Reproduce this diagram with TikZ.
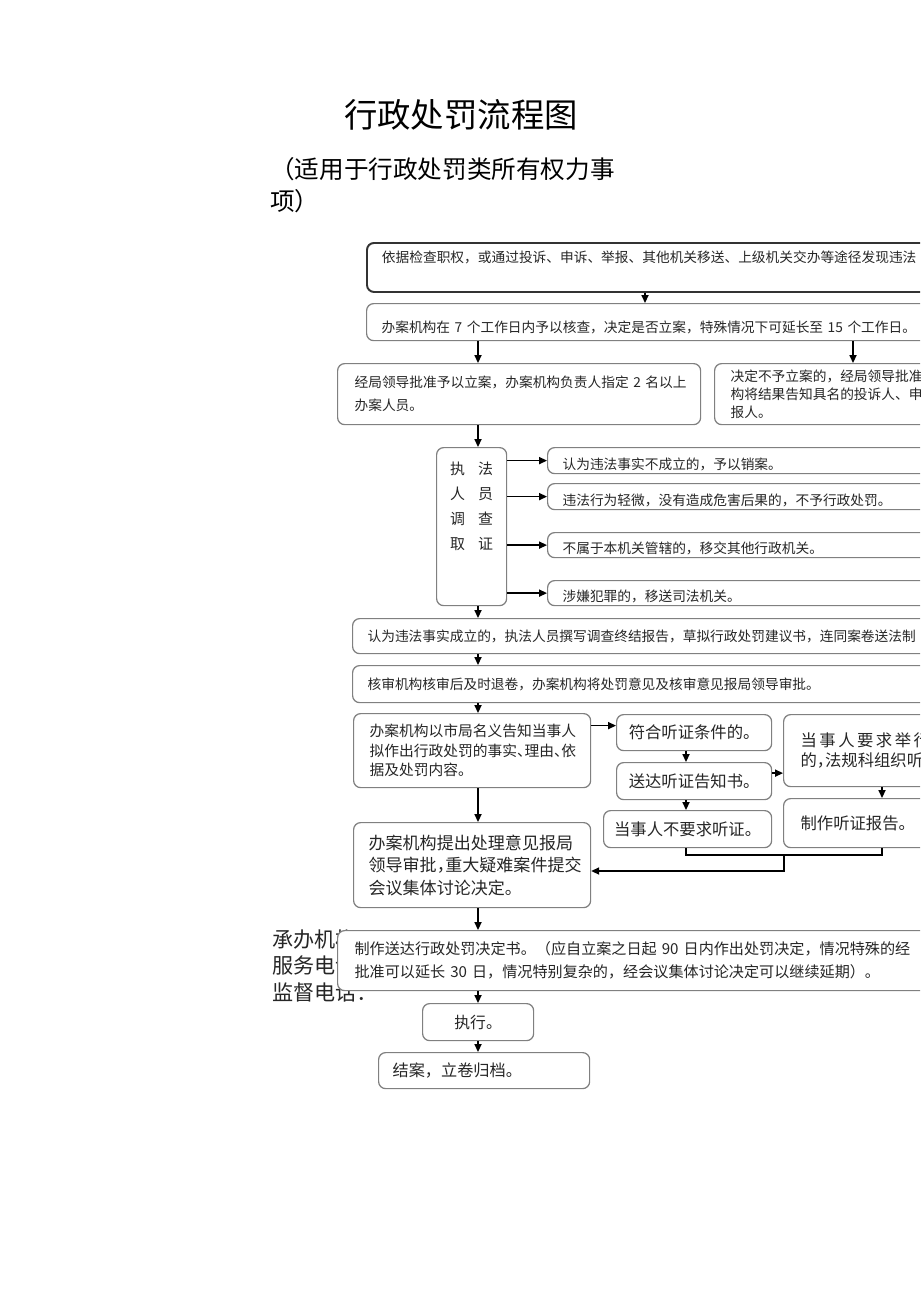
\documentclass[tikz,border=0pt]{standalone}
\usepackage{fontspec}
\newfontfamily\cjk{Noto Sans CJK SC}
\usetikzlibrary{arrows.meta}
\newlength\pxu
\setlength\pxu{0.02cm}
% narrow punctuation
\newcommand{\hc}{\makebox[0.5em][l]{，}}
\newcommand{\hd}{\makebox[0.5em][l]{、}}
\newcommand{\jg}{\hspace{2.5\pxu}}

\begin{document}
\begin{tikzpicture}[
  x=0.02cm, y=-0.02cm,
  frame/.style={draw=black!50, line width=0.7pt, rounded corners=4pt, fill=white,
    anchor=north west, inner ysep=0pt, text=black!85},
  box/.style={frame, align=left, font=\cjk\fontsize{7.8}{13}\selectfont},
  hbox/.style={frame, align=center, inner xsep=0pt, font=\cjk\fontsize{9.3}{11}\selectfont},
  sink/.style={text height=#1, text depth=0.9pt},
  arr/.style={-{Triangle[length=4.5pt,width=4pt]}, line width=0.9pt},
  link/.style={line width=0.9pt}
]
\useasboundingbox (0,0) rectangle (920,1301);
\clip (0,0) rectangle (920,1301);
\fill[white] (0,0) rectangle (920,1301);

% title
\node[font=\cjk\fontsize{19}{19}\selectfont] (title) at (461,115) {行政处罚流程图};
\node[anchor=north west, align=left, inner sep=0pt, font=\cjk\fontsize{14}{18.2}\selectfont] (scope) at (270,157) {（适用于行政处罚类所有权力事\\项）};

% columns of the connectors
\coordinate (col) at (478,0);
\coordinate (colT) at (645,0);
\coordinate (colR) at (853,0);
\coordinate (colJ) at (686,0);
\coordinate (colK) at (882,0);

\node[box, draw=black!80, line width=1.1pt, text width=564\pxu, inner xsep=15\pxu, minimum height=49\pxu, text height=7pt, text depth=12.5pt] (find) at (366,242) {依据检查职权，或通过投诉、申诉、举报、其他机关移送、上级机关交办等途径发现违法};
\node[box, text width=564\pxu, inner xsep=15\pxu, minimum height=37\pxu, sink=12.5pt] (check) at (366,303) {办案机构在~7~个工作日内予以核查，决定是否立案，特殊情况下可延长至~15~个工作日。};
\node[box, text width=329\pxu, inner xsep=17\pxu, minimum height=61\pxu] (accept) at (337,363) {经局领导批准予以立案，办案机构负责人指定~2~名以上\\办案人员。};
\node[box, text width=214\pxu, inner xsep=16\pxu, minimum height=61\pxu, font=\cjk\fontsize{7.8}{10.3}\selectfont] (reject) at (714,363) {决定不予立案的，经局领导批准\\构将结果告知具名的投诉人、申\\报人。};

% investigation
\node[frame, inner xsep=0pt, minimum width=70\pxu, minimum height=158\pxu, font=\cjk\fontsize{8.5}{14.2}\selectfont] (probe) at (436,447) {\begin{tabular}{@{}c@{\hspace{13\pxu}}c@{}}执&法\\人&员\\调&查\\取&证\\[40\pxu]\end{tabular}};
\node[box, text width=383\pxu, inner xsep=15\pxu, minimum height=26\pxu, sink=10.8pt] (drop) at (547,447) {认为违法事实不成立的，予以销案。};
\node[box, text width=383\pxu, inner xsep=15\pxu, minimum height=26\pxu, sink=10.8pt] (minor) at (547,483) {违法行为轻微，没有造成危害后果的，不予行政处罚。};
\node[box, text width=383\pxu, inner xsep=15\pxu, minimum height=25\pxu, sink=10.8pt] (transfer) at (547,532) {不属于本机关管辖的，移交其他行政机关。};
\node[box, text width=383\pxu, inner xsep=15\pxu, minimum height=25\pxu, sink=10.8pt] (crime) at (547,580) {涉嫌犯罪的，移送司法机关。};

\node[box, text width=578\pxu, inner xsep=15\pxu, minimum height=35\pxu] (report) at (352,618) {认为违法事实成立的，执法人员撰写调查终结报告，草拟行政处罚建议书，连同案卷送法制};
\node[box, text width=578\pxu, inner xsep=15\pxu, minimum height=37\pxu] (review) at (352,665) {核审机构核审后及时退卷，办案机构将处罚意见及核审意见报局领导审批。};
\node[box, text width=205\pxu, inner xsep=16\pxu, minimum height=74\pxu, font=\cjk\fontsize{8.4}{11.2}\selectfont] (notify) at (353,713) {办案机构以市局名义告知当事人\\拟作出行政处罚的事实\hd 理由\hd 依\\据及处罚内容。};

% hearing
\node[hbox, minimum width=155\pxu, minimum height=36\pxu] (hearok) at (616,714) {符合听证条件的。};
\node[hbox, minimum width=155\pxu, minimum height=37\pxu] (hearnote) at (616,762) {送达听证告知书。};
\node[hbox, minimum width=168\pxu, minimum height=37\pxu] (nohear) at (603,810) {当事人不要求听证。};
\node[box, text width=143\pxu, inner xsep=17\pxu, minimum height=72\pxu, font=\cjk\fontsize{9.3}{11.4}\selectfont] (hearreq) at (783,714) {当\jg 事\jg 人\jg 要\jg 求\jg 举\jg 行\\的\hc 法规科组织听};
\node[box, text width=143\pxu, inner xsep=17\pxu, minimum height=49\pxu, font=\cjk\fontsize{9.3}{11}\selectfont] (hearrep) at (783,798) {制作听证报告。};

\node[box, text width=207\pxu, inner xsep=15\pxu, minimum height=85\pxu, font=\cjk\fontsize{9.7}{12.8}\selectfont] (decide) at (353,822) {办案机构提出处理意见报局\\领导审批\hc 重大疑难案件提交\\会议集体讨论决定。};

% contact lines, partly under the next box
\node[anchor=north west, align=left, inner sep=0pt, text=black!85, font=\cjk\fontsize{12}{15.3}\selectfont] (contact) at (272,929) {承办机构：\\服务电话：\\监督电话：};

\node[box, text width=589\pxu, inner xsep=17\pxu, minimum height=60\pxu, font=\cjk\fontsize{8.6}{13}\selectfont] (issue) at (337,930) {制作送达行政处罚决定书。（应自立案之日起~90~日内作出处罚决定，情况特殊的经\\批准可以延长~30~日，情况特别复杂的，经会议集体讨论决定可以继续延期）。};
\node[hbox, minimum width=111\pxu, minimum height=37\pxu, font=\cjk\fontsize{9}{11}\selectfont] (execute) at (422,1003) {执行。};
\node[box, text width=183\pxu, inner xsep=14\pxu, minimum height=36\pxu, font=\cjk\fontsize{9.2}{11}\selectfont] (close) at (378,1052) {结案，立卷归档。};

% main flow
\draw[arr] (find.south -| colT) -- (check.north -| colT);
\draw[arr] (check.south -| col) -- (accept.north -| col);
\draw[arr] (check.south -| colR) -- (reject.north -| colR);
\draw[arr] (accept.south -| col) -- (probe.north -| col);
\foreach \n in {drop,minor,transfer,crime}
  \draw[arr] (probe.east |- \n.west) -- (\n.west);
\draw[arr] (probe.south -| col) -- (report.north -| col);
\draw[arr] (report.south -| col) -- (review.north -| col);
\draw[arr] (review.south -| col) -- (notify.north -| col);
\draw[arr] (notify.south -| col) -- (decide.north -| col);
\draw[arr] (decide.south -| col) -- (issue.north -| col);
\draw[arr] (issue.south -| col) -- (execute.north -| col);
\draw[arr] (execute.south -| col) -- (close.north -| col);

% hearing branch
\coordinate (tell) at ([yshift=7\pxu]hearok.west);
\draw[arr] (notify.east |- tell) -- (tell);
\draw[arr] (hearok.south -| colJ) -- (hearnote.north -| colJ);
\draw[arr] (hearnote.south -| colJ) -- (nohear.north -| colJ);
\coordinate (req) at ([yshift=8\pxu]hearnote.east);
\draw[arr] (req) -- (req -| hearreq.west);
\draw[arr] (hearreq.south -| colK) -- (hearrep.north -| colK);
\coordinate (merge) at (784,855);
\coordinate (back) at (784,871);
\draw[link] (nohear.south -| colJ) -- (colJ |- merge) -- (colK |- merge) -- (hearrep.south -| colK);
\draw[arr] (merge) -- (back) -- (back -| decide.east);
\end{tikzpicture}
\end{document}
